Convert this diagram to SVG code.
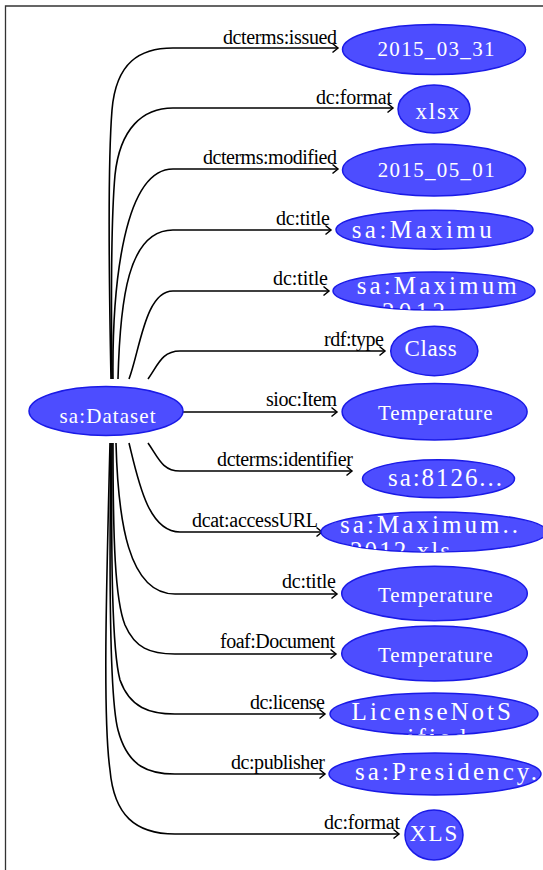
<svg xmlns="http://www.w3.org/2000/svg" width="543" height="870" viewBox="0 0 543 870">
  <style>
    .frame { fill: none; stroke: #333; stroke-width: 1.3; }
    .node ellipse { fill: #4d4dff; stroke: #1a1ae6; stroke-width: 1.5; }
    .node text { fill: #ffffff; font-family: "Liberation Serif", "Times New Roman", serif; font-size: 21px; }
    .node text.wide { font-size: 25px; }
    .node text.mid { font-size: 23px; }
    .edge path { fill: none; stroke: #000; stroke-width: 1.6; marker-end: url(#arrow); }
    .edge text { fill: #000; font-family: "Liberation Serif", "Times New Roman", serif; font-size: 20px; }
  </style>
  <defs>
    <marker id="arrow" markerUnits="userSpaceOnUse" markerWidth="10" markerHeight="12" refX="7" refY="6" orient="auto">
      <path d="M1.5,1.5 L7,6 L1.5,10.5" fill="none" stroke="#000" stroke-width="1.5"/>
    </marker>
    <clipPath id="clip-n5"><ellipse cx="434" cy="291" rx="101" ry="19"/></clipPath>
    <clipPath id="clip-n9"><ellipse cx="434" cy="532" rx="113" ry="20"/></clipPath>
    <clipPath id="clip-n12"><ellipse cx="434" cy="714" rx="104" ry="21"/></clipPath>
  </defs>

  <path class="frame" d="M5.5,870 V6 H543"/>

  <g id="edges">
    <g class="edge"><path d="M111,379 C109,280 108,160 112,110 C116,62 140,48 173,48 L338,48"/><text x="223" y="44" textLength="114">dcterms:issued</text></g>
    <g class="edge"><path d="M112,379 C111,300 111,220 115,175 C120,128 143,108 173,108 L393,108"/><text x="316" y="104" textLength="76">dc:format</text></g>
    <g class="edge"><path d="M113,379 C112,280 125,169 173,169 L338,169"/><text x="203" y="164" textLength="134">dcterms:modified</text></g>
    <g class="edge"><path d="M118,379 C120,300 128,230 173,230 L331,230"/><text x="276" y="225" textLength="54">dc:title</text></g>
    <g class="edge"><path d="M129,379 C140,350 145,291 173,291 L329,291"/><text x="273" y="285" textLength="55">dc:title</text></g>
    <g class="edge"><path d="M148,379 C158,365 162,351 180,351 L385,351"/><text x="324" y="346" textLength="60">rdf:type</text></g>
    <g class="edge"><path d="M183,412 L337,412"/><text x="266" y="406" textLength="71">sioc:Item</text></g>
    <g class="edge"><path d="M148,443 C158,457 162,471 180,471 L352,471"/><text x="217" y="466" textLength="136">dcterms:identifier</text></g>
    <g class="edge"><path d="M129,443 C138,480 148,532 180,532 L322,532"/><text x="192" y="527" textLength="126">dcat:accessURL</text></g>
    <g class="edge"><path d="M116,443 C118,520 128,594 175,594 L337,594"/><text x="282" y="588" textLength="54">dc:title</text></g>
    <g class="edge"><path d="M113,443 C113,540 115,600 125,625 C135,648 150,654 175,654 L336,654"/><text x="220" y="648" textLength="115">foaf:Document</text></g>
    <g class="edge"><path d="M112,443 C111,560 112,650 120,680 C130,708 150,714 175,714 L325,714"/><text x="250" y="709" textLength="75">dc:license</text></g>
    <g class="edge"><path d="M111,443 C109,580 110,700 118,730 C128,768 150,774 175,774 L325,774"/><text x="231" y="769" textLength="94">dc:publisher</text></g>
    <g class="edge"><path d="M110,443 C106,600 103,720 110,770 C114,815 135,834 175,834 L399,834"/><text x="324" y="829" textLength="76">dc:format</text></g>
  </g>

  <g id="n0" class="node"><ellipse cx="106" cy="411" rx="77" ry="24.5"/><text x="59.6" y="422.5" textLength="96">sa:Dataset</text></g>
  <g id="n1" class="node"><ellipse cx="434" cy="49.5" rx="91.5" ry="25"/><text x="377.5" y="56" textLength="117">2015_03_31</text></g>
  <g id="n2" class="node"><ellipse cx="434" cy="109" rx="36" ry="24"/><text class="mid" x="415.6" y="119" textLength="43.5">xlsx</text></g>
  <g id="n3" class="node"><ellipse cx="434" cy="170" rx="91.5" ry="26"/><text x="377.7" y="177" textLength="117">2015_05_01</text></g>
  <g id="n4" class="node"><ellipse cx="434.5" cy="229.7" rx="98.5" ry="19.5"/><text class="wide" x="351.7" y="238" textLength="140">sa:Maximu</text></g>
  <g id="n5" class="node"><ellipse cx="434" cy="291" rx="101" ry="19"/><g clip-path="url(#clip-n5)"><text class="wide" x="356.7" y="294" textLength="160">sa:Maximum</text><text class="wide" x="382" y="320" textLength="63">2012</text></g></g>
  <g id="n6" class="node"><ellipse cx="434.3" cy="351" rx="43.6" ry="24.7"/><text class="mid" x="404.6" y="356" textLength="52">Class</text></g>
  <g id="n7" class="node"><ellipse cx="434.6" cy="411.7" rx="92.5" ry="28.3"/><text x="378" y="420" textLength="114.5">Temperature</text></g>
  <g id="n8" class="node"><ellipse cx="438.5" cy="478.8" rx="76" ry="19"/><text class="wide" x="388" y="486" textLength="114">sa:8126...</text></g>
  <g id="n9" class="node"><ellipse cx="434" cy="532" rx="113" ry="20"/><g clip-path="url(#clip-n9)"><text class="wide" x="340" y="533" textLength="178">sa:Maximum..</text><text class="wide" x="350" y="559" textLength="100">2012.xls</text></g></g>
  <g id="n10" class="node"><ellipse cx="434.5" cy="593.5" rx="92.8" ry="27.3"/><text x="378" y="601.7" textLength="114.5">Temperature</text></g>
  <g id="n11" class="node"><ellipse cx="434.5" cy="653.5" rx="92.8" ry="27.5"/><text x="378" y="661.7" textLength="114.5">Temperature</text></g>
  <g id="n12" class="node"><ellipse cx="434" cy="714" rx="104" ry="21"/><g clip-path="url(#clip-n12)"><text class="wide" x="351.6" y="720" textLength="159.4">LicenseNotS</text><text class="wide" x="363" y="746" textLength="103">pecified</text></g></g>
  <g id="n13" class="node"><ellipse cx="435" cy="774" rx="106" ry="21"/><text class="wide" x="355" y="780" textLength="182">sa:Presidency.</text></g>
  <g id="n14" class="node"><ellipse cx="434" cy="835" rx="29" ry="25"/><text class="mid" x="409.8" y="841" textLength="47.4">XLS</text></g>
</svg>
